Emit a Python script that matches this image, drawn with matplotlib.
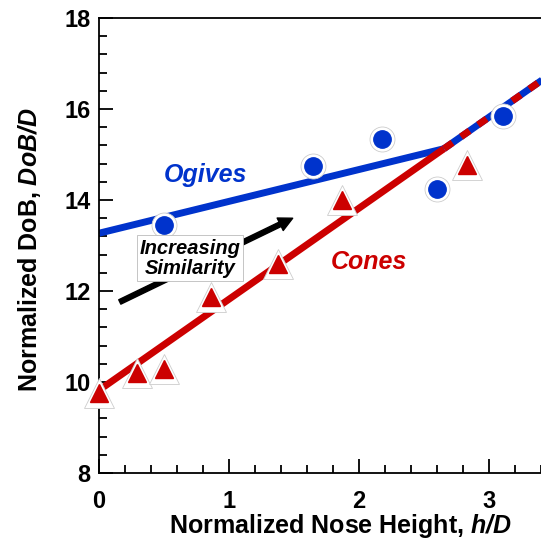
import numpy as np
import matplotlib
matplotlib.use('Agg')
import matplotlib.pyplot as plt
from matplotlib.ticker import MultipleLocator

plt.rcParams['font.family'] = ['Liberation Sans', 'DejaVu Sans']
plt.rcParams['mathtext.fontset'] = 'custom'
plt.rcParams['mathtext.bfit'] = 'Liberation Sans:bold:italic'
plt.rcParams['mathtext.it'] = 'Liberation Sans:italic'

# measured points
cone_h = [0.0, 0.29, 0.50, 0.86, 1.38, 1.87, 2.83]
cone_dob = [9.76, 10.20, 10.29, 11.87, 12.59, 14.00, 14.77]
ogive_h = [0.50, 1.65, 2.18, 2.60, 3.11]
ogive_dob = [13.45, 14.75, 15.34, 14.24, 15.85]

# linear fits (intercept, slope)
ogive_fit = (13.27, 0.70)
cone_fit = (9.82, 2.00)

blue = '#0033cc'
red = '#cc0000'

fig = plt.figure(figsize=(5.41, 5.45), dpi=100)
ax = fig.add_axes([0.183, 0.132, 0.841, 0.835])

x_cross = (ogive_fit[0] - cone_fit[0]) / (cone_fit[1] - ogive_fit[1])
xa = np.array([0, x_cross])
xb = np.array([x_cross, 3.6])
ax.plot(xa, ogive_fit[0] + ogive_fit[1] * xa, color=blue, lw=5, solid_capstyle='butt', zorder=2)
ax.plot(xa, cone_fit[0] + cone_fit[1] * xa, color=red, lw=5, solid_capstyle='butt', zorder=2)
# both fits coincide past the crossing -> red/blue dashes
ax.plot(xb, cone_fit[0] + cone_fit[1] * xb, color=blue, lw=5, solid_capstyle='butt', zorder=2)
ax.plot(xb, cone_fit[0] + cone_fit[1] * xb, color=red, lw=5, dashes=(1.5, 1.5), dash_capstyle='butt', zorder=2)

# white halo markers underneath
ax.plot(ogive_h, ogive_dob, 'o', ms=18, mfc='white', mec='#cccccc', mew=0.6, ls='none', zorder=3, clip_on=False)
ax.plot(ogive_h, ogive_dob, 'o', ms=12.5, mfc=blue, mec=blue, ls='none', zorder=4, clip_on=False)
ax.plot(cone_h, cone_dob, '^', ms=21, mfc='white', mec='#cccccc', mew=0.6, ls='none', zorder=3, clip_on=False)
ax.plot(cone_h, cone_dob, '^', ms=12.5, mfc=red, mec=red, ls='none', zorder=4, clip_on=False)

ax.text(0.82, 14.55, 'Ogives', color=blue, fontsize=18, fontweight='bold',
        fontstyle='italic', ha='center', va='center')
ax.text(2.08, 12.64, 'Cones', color=red, fontsize=18, fontweight='bold',
        fontstyle='italic', ha='center', va='center')

ax.annotate('', xy=(1.49, 13.6), xytext=(0.16, 11.76),
            arrowprops=dict(arrowstyle='simple,head_length=1.0,head_width=1.0,tail_width=0.35',
                            color='black', shrinkA=0, shrinkB=0), zorder=5)
ax.text(0.70, 12.72, 'Increasing\nSimilarity', fontsize=14.5, fontweight='bold',
        fontstyle='italic', ha='center', va='center', linespacing=1.1, zorder=6,
        bbox=dict(boxstyle='square,pad=0.15', fc='white', ec='#bbbbbb', lw=0.6))

ax.set_xlim(0, 3.5)
ax.set_ylim(8, 18)
ax.xaxis.set_major_locator(MultipleLocator(1))
ax.xaxis.set_minor_locator(MultipleLocator(0.2))
ax.yaxis.set_major_locator(MultipleLocator(2))
ax.yaxis.set_minor_locator(MultipleLocator(0.4))
ax.tick_params(which='both', direction='in', width=1.3, top=False, right=False)
ax.tick_params(which='major', length=10, labelsize=17)
ax.tick_params(axis='x', which='major', pad=12)
ax.tick_params(axis='y', which='major', pad=6)
ax.tick_params(which='minor', length=6)
for lab in ax.get_xticklabels() + ax.get_yticklabels():
    lab.set_fontweight('bold')
for s in ax.spines.values():
    s.set_linewidth(1.3)

ax.set_xlabel(r'Normalized Nose Height, $\mathbfit{h/D}$', fontsize=18, fontweight='bold')
ax.set_ylabel(r'Normalized DoB, $\mathbfit{DoB/D}$', fontsize=18, fontweight='bold')
ax.xaxis.set_label_coords(0.53, -0.085)
ax.yaxis.set_label_coords(-0.124, 0.49)

fig.savefig('out.png', dpi=100)
